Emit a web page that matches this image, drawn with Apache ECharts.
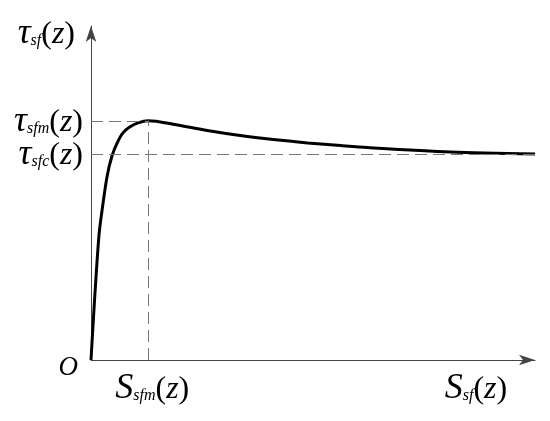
<!DOCTYPE html>
<html>
<head>
<meta charset="utf-8">
<title>tau-s curve</title>
<style>
html, body { margin: 0; padding: 0; background: #fff; }
#main { width: 550px; height: 421px; }
</style>
</head>
<body>
<div id="main"></div>
<script src="https://cdn.jsdelivr.net/npm/echarts@6/dist/echarts.min.js"></script>
<script>
// curve (slip, shear stress), arbitrary units 0..100
var slipValues = [0, 0.8, 1.8, 2.5, 3.6, 4.7, 5.9, 7.2, 8.8, 10.6, 12.9, 18.5, 26.2, 33.6, 41.1, 48.8, 56.2, 62.3, 81.0, 100];
var stressValues = [0, 18.0, 37.4, 44.9, 54.8, 61.0, 65.0, 68.0, 69.8, 71.0, 71.6, 70.6, 68.7, 67.2, 66.0, 65.0, 64.2, 63.6, 62.3, 61.7];

// peak and residual
var slipPeak = 12.9;
var stressPeak = 71.6;
var stressResidual = 61.7;

// tick labels: symbol + subscript, all followed by (z) except the origin
var xLabelValues = [slipPeak, 85.8];
var xLabelBases = ['S', 'S'];
var xLabelSubs = ['sfm', 'sf'];
var yLabelValues = [0, stressResidual, stressPeak, 97.9];
var yLabelBases = ['O', 'τ', 'τ', 'τ'];
var yLabelSubs = ['', 'sfc', 'sfm', 'sf'];

var FONT = '"Liberation Serif", "Times New Roman", serif';
var pairs = slipValues.map(function (x, i) { return [x, stressValues[i]]; });

var myChart = echarts.init(document.getElementById('main'));

var axisCommon = {
    type: 'value',
    min: 0,
    max: 100,
    splitLine: { show: false },
    axisTick: { show: false },
    axisLabel: { show: false },
    axisLine: {
        show: true,
        onZero: false,
        symbol: ['none', 'arrow'],
        symbolSize: [8, 16],
        lineStyle: { color: '#444', width: 1 }
    }
};

var option = {
    backgroundColor: '#fff',
    animation: false,
    grid: { left: 91, right: 15, top: 26, bottom: 61 },
    xAxis: axisCommon,
    yAxis: axisCommon,
    series: [{
        type: 'line',
        data: pairs,
        smooth: 0.3,
        showSymbol: false,
        lineStyle: { color: '#000', width: 3 },
        markLine: {
            silent: true,
            symbol: 'none',
            label: { show: false },
            lineStyle: { color: '#777', width: 1, type: [12, 6] },
            data: [
                [{ coord: [0, stressPeak] }, { coord: [slipPeak, stressPeak] }],
                [{ coord: [slipPeak, 0] }, { coord: [slipPeak, stressPeak] }],
                [{ coord: [0, stressResidual] }, { coord: [100, stressResidual] }]
            ]
        }
    }]
};

myChart.setOption(option);

// math-style labels built from plain text pieces (symbol, subscript, (z))
var ctx = document.createElement('canvas').getContext('2d');
function fontOf(p) {
    return (p.italic ? 'italic ' : '') + p.size + 'px ' + FONT;
}
function pieces(base, sub) {
    if (!sub) return [{ t: base, size: 27, italic: true }];
    return [
        { t: base, size: 36, italic: true },
        { t: sub, size: 16, italic: true, dy: 2 },
        { t: '(', size: 32 },
        { t: 'z', size: 32, italic: true },
        { t: ')', size: 32 }
    ];
}
function place(list, anchorX, baseline, align, out) {
    var total = 0;
    list.forEach(function (p) {
        ctx.font = fontOf(p);
        ctx.textBaseline = 'middle';
        var m = ctx.measureText(p.t);
        p.w = m.width;
        p.mid = (m.alphabeticBaseline != null) ? Math.abs(m.alphabeticBaseline) : 0.34 * p.size;
        total += p.w;
    });
    var x = align === 'right' ? anchorX - total : anchorX - total / 2;
    list.forEach(function (p) {
        out.push({
            type: 'text',
            silent: true,
            x: x,
            y: baseline + (p.dy || 0) - p.mid,
            style: {
                legacy: false,
                text: p.t,
                font: fontOf(p),
                fill: '#000',
                align: 'left',
                verticalAlign: 'middle'
            }
        });
        x += p.w;
    });
}

var texts = [];
yLabelValues.forEach(function (v, i) {
    var pt = myChart.convertToPixel({ gridIndex: 0 }, [0, v]);
    if (!yLabelSubs[i]) {
        place(pieces(yLabelBases[i], ''), pt[0] - 13, pt[1] + 15, 'right', texts);
    } else {
        var gap = v > 90 ? 16 : 8;
        place(pieces(yLabelBases[i], yLabelSubs[i]), pt[0] - gap, pt[1] + 10, 'right', texts);
    }
});
xLabelValues.forEach(function (v, i) {
    var pt = myChart.convertToPixel({ gridIndex: 0 }, [v, 0]);
    place(pieces(xLabelBases[i], xLabelSubs[i]), pt[0] + 4, pt[1] + 38, 'center', texts);
});

myChart.setOption({ graphic: texts });
</script>
</body>
</html>
